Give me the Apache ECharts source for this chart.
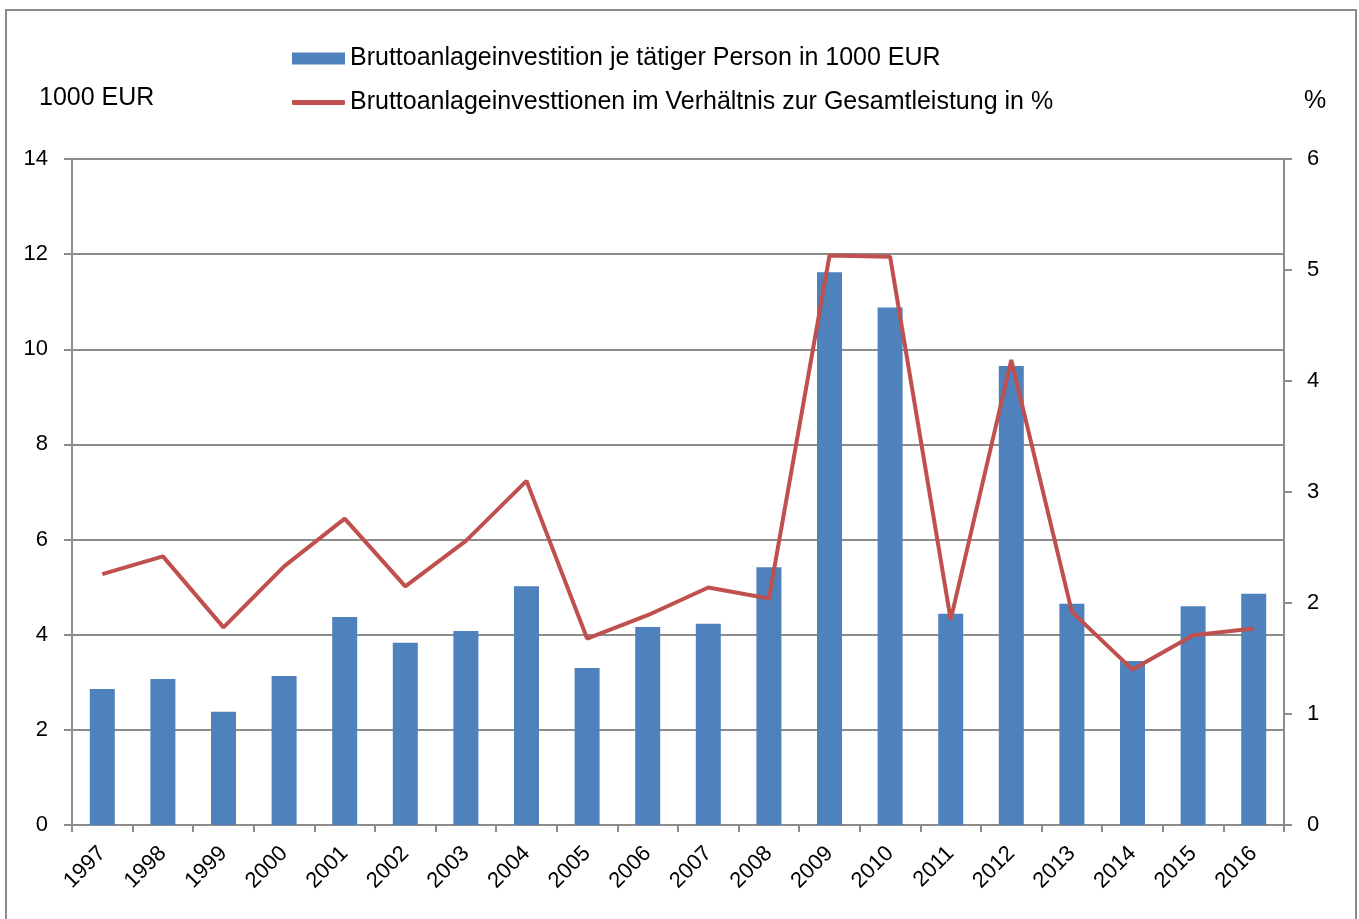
<!DOCTYPE html>
<html>
<head>
    <meta charset="utf-8">
    <title>Bruttoanlageinvestitionen</title>
    <script src="https://cdn.jsdelivr.net/npm/echarts@6/dist/echarts.min.js"></script>
    <style>
        html, body { margin: 0; padding: 0; background: #fff; }
        #chart { width: 1359px; height: 919px; }
    </style>
</head>
<body>
<div id="chart"></div>
<script type="text/javascript">
    // ----- data -----
    var years = ['1997', '1998', '1999', '2000', '2001', '2002', '2003', '2004', '2005', '2006',
        '2007', '2008', '2009', '2010', '2011', '2012', '2013', '2014', '2015', '2016'];
    // Bruttoanlageinvestition je tätiger Person (1000 EUR)
    var invProPerson = [2.86, 3.07, 2.38, 3.13, 4.37, 3.83, 4.08, 5.02, 3.30, 4.16,
        4.23, 5.42, 11.62, 10.88, 4.44, 9.65, 4.65, 3.45, 4.60, 4.86];
    // Bruttoanlageinvestitionen im Verhältnis zur Gesamtleistung (%)
    var invAnteil = [2.26, 2.42, 1.78, 2.33, 2.76, 2.15, 2.56, 3.10, 1.68, 1.89,
        2.14, 2.04, 5.13, 5.12, 1.85, 4.19, 1.92, 1.40, 1.71, 1.77];

    var nameBar = 'Bruttoanlageinvestition je tätiger Person in 1000 EUR';
    var nameLine = 'Bruttoanlageinvesttionen im Verhältnis zur Gesamtleistung in %';

    var font = 'Liberation Sans, Arial, sans-serif';
    var gridColor = '#8c8c8c';

    var myChart = echarts.init(document.getElementById('chart'));
    myChart.setOption({
        backgroundColor: '#fff',
        animation: false,
        textStyle: { fontFamily: font },
        graphic: [
            {   // Rahmen
                type: 'rect',
                shape: { x: 6, y: 10, width: 1350, height: 930 },
                style: { fill: 'none', stroke: '#8a8a8a', lineWidth: 2 }
            },
            {
                type: 'text', left: 39, top: 86,
                style: { text: '1000 EUR', fontSize: 25, fontFamily: font, fill: '#000' }
            },
            {
                type: 'text', left: 1304, top: 89,
                style: { text: '%', fontSize: 25, fontFamily: font, fill: '#000' }
            }
        ],
        legend: [
            {
                left: 292, top: 46, padding: 0,
                itemWidth: 53, itemHeight: 12,
                data: [{ name: nameBar, icon: 'rect' }],
                textStyle: { fontSize: 25, color: '#000', fontFamily: font }
            },
            {
                left: 292, top: 90, padding: 0,
                itemWidth: 53, itemHeight: 5,
                data: [{ name: nameLine, icon: 'roundRect' }],
                textStyle: { fontSize: 25, color: '#000', fontFamily: font }
            }
        ],
        grid: { left: 72, right: 75, top: 159, bottom: 94 },
        xAxis: {
            type: 'category',
            data: years,
            boundaryGap: true,
            axisLine: { lineStyle: { color: gridColor, width: 2 } },
            axisTick: { show: true, length: 7, lineStyle: { color: gridColor, width: 2 } },
            axisLabel: { rotate: 45, margin: 25, fontSize: 22, color: '#000', interval: 0 }
        },
        yAxis: [
            {
                type: 'value', min: 0, max: 14, interval: 2,
                axisLine: { show: true, lineStyle: { color: gridColor, width: 2 } },
                axisTick: { show: true, length: 8, lineStyle: { color: gridColor, width: 2 } },
                axisLabel: { fontSize: 22, color: '#000', margin: 24 },
                splitLine: { lineStyle: { color: gridColor, width: 2 } }
            },
            {
                type: 'value', min: 0, max: 6, interval: 1,
                axisLine: { show: true, lineStyle: { color: gridColor, width: 2 } },
                axisTick: { show: true, length: 8, lineStyle: { color: gridColor, width: 2 } },
                axisLabel: { fontSize: 22, color: '#000', margin: 23 },
                splitLine: { show: false }
            }
        ],
        series: [
            {
                name: nameBar,
                type: 'bar',
                yAxisIndex: 0,
                barWidth: 25,
                itemStyle: { color: '#4f81bd' },
                data: invProPerson
            },
            {
                name: nameLine,
                type: 'line',
                yAxisIndex: 1,
                symbol: 'none',
                lineStyle: { color: '#c0504d', width: 4 },
                itemStyle: { color: '#c0504d' },
                data: invAnteil
            }
        ]
    });
</script>
</body>
</html>
